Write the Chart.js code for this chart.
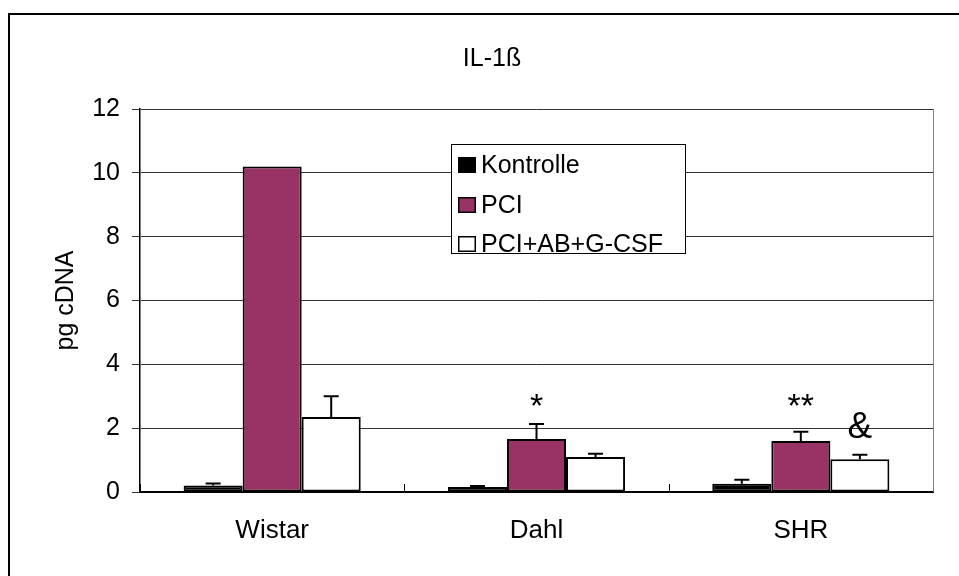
<!DOCTYPE html>
<html>
<head>
<meta charset="utf-8">
<title>IL-1ß</title>
<script src="https://cdn.jsdelivr.net/npm/chart.js@4"></script>
<style>
    body { margin: 0; background: #fff; }
    canvas { display: block; }
</style>
</head>
<body>
<canvas id="grafico" width="959" height="576"></canvas>
<script>
const categorias = ['Wistar', 'Dahl', 'SHR'];
const series = ['Kontrolle', 'PCI', 'PCI+AB+G-CSF'];

const kontrolle = [0.2, 0.16, 0.26];
const pci = [10.2, 1.66, 1.6];
const pciAbGcsf = [2.35, 1.1, 1.03];

// erro padrão (só a parte de cima aparece)
const kontrolleErro = [0.07, 0.03, 0.12];
const pciErro = [0, 0.47, 0.29];
const pciAbGcsfErro = [0.65, 0.1, 0.14];

const yTicks = [0, 2, 4, 6, 8, 10, 12];

// marcas de significância: [categoria, série, texto, altura do texto]
const marcas = [
    [1, 1, '*', 2.35],
    [2, 1, '**', 2.35],
    [2, 2, '&', 1.69]
];

const fonte = "'Liberation Sans', Arial, sans-serif";
const erros = [kontrolleErro, pciErro, pciAbGcsfErro];

const extras = {
    id: 'extras',
    afterDatasetsDraw(chart) {
        const ctx = chart.ctx;
        const y = chart.scales.y;
        const x = chart.scales.x;
        const area = chart.chartArea;

        ctx.save();
        ctx.strokeStyle = '#000';
        ctx.lineWidth = 2;
        chart.data.datasets.forEach(function(ds, i) {
            const meta = chart.getDatasetMeta(i);
            meta.data.forEach(function(bar, j) {
                const sd = erros[i][j];
                if (!sd) return;
                const topo = y.getPixelForValue(ds.data[j] + sd);
                ctx.beginPath();
                ctx.moveTo(bar.x, bar.y);
                ctx.lineTo(bar.x, topo);
                ctx.moveTo(bar.x - 7.5, topo);
                ctx.lineTo(bar.x + 7.5, topo);
                ctx.stroke();
            });
        });

        // tracinhos do eixo x entre as categorias
        ctx.lineWidth = 1;
        const largura = (x.right - x.left) / categorias.length;
        for (let k = 0; k <= categorias.length; k++) {
            const px = Math.round(x.left + k * largura) + 0.5;
            ctx.beginPath();
            ctx.moveTo(px, area.bottom);
            ctx.lineTo(px, area.bottom - 8);
            ctx.stroke();
        }

        // borda direita da área do gráfico
        ctx.strokeStyle = '#808080';
        ctx.beginPath();
        ctx.moveTo(area.right + 0.5, area.top);
        ctx.lineTo(area.right + 0.5, area.bottom);
        ctx.stroke();

        ctx.fillStyle = '#000';
        ctx.textAlign = 'center';
        ctx.textBaseline = 'alphabetic';
        marcas.forEach(function(m) {
            const bar = chart.getDatasetMeta(m[1]).data[m[0]];
            ctx.font = (m[2] === '&' ? '37px ' : '34px ') + fonte;
            ctx.fillText(m[2], bar.x, y.getPixelForValue(m[3]));
        });
        ctx.restore();
    },
    afterDraw(chart) {
        const ctx = chart.ctx;
        ctx.save();

        // moldura externa (só esquerda e topo aparecem)
        ctx.strokeStyle = '#000';
        ctx.lineWidth = 2;
        ctx.beginPath();
        ctx.moveTo(9, 576);
        ctx.lineTo(9, 14);
        ctx.lineTo(959, 14);
        ctx.stroke();

        // título
        ctx.fillStyle = '#000';
        ctx.font = '25px ' + fonte;
        ctx.textAlign = 'center';
        ctx.textBaseline = 'alphabetic';
        ctx.fillText('IL-1ß', 492, 66);

        // legenda
        ctx.fillStyle = '#fff';
        ctx.fillRect(451, 144, 234, 109);
        ctx.lineWidth = 1;
        ctx.strokeRect(451.5, 144.5, 234, 109);
        ctx.textAlign = 'left';
        const linhas = [173, 213, 252];
        chart.data.datasets.forEach(function(ds, i) {
            const base = linhas[i];
            ctx.fillStyle = ds.backgroundColor;
            ctx.fillRect(458, base - 16, 18, 16);
            ctx.strokeStyle = '#000';
            ctx.lineWidth = 1.5;
            ctx.strokeRect(458.75, base - 15.25, 16.5, 14.5);
            ctx.fillStyle = '#000';
            ctx.fillText(ds.label, 481, base);
        });
        ctx.restore();
    }
};

const grafico = new Chart(document.getElementById('grafico'), {
    type: 'bar',
    data: {
        labels: categorias,
        datasets: [
            { label: series[0], data: kontrolle, backgroundColor: '#000000' },
            { label: series[1], data: pci, backgroundColor: '#993366' },
            { label: series[2], data: pciAbGcsf, backgroundColor: '#ffffff' }
        ]
    },
    options: {
        responsive: false,
        animation: false,
        devicePixelRatio: 1,
        layout: { padding: { left: 0, right: 26, top: 109, bottom: 0 } },
        datasets: {
            bar: {
                borderColor: '#000',
                borderWidth: 2,
                borderSkipped: false,
                categoryPercentage: 0.67,
                barPercentage: 1.0
            }
        },
        scales: {
            x: {
                grid: { display: false, drawTicks: false },
                border: { color: '#000', width: 2 },
                ticks: { color: '#000', padding: 23, font: { family: fonte, size: 26 } },
                afterFit: function(s) { s.height = 84; }
            },
            y: {
                min: 0,
                max: 12,
                afterBuildTicks: function(s) { s.ticks = yTicks.map(v => ({ value: v })); },
                grid: { color: '#333', lineWidth: 1, tickLength: 8, drawTicks: true },
                border: { color: '#000', width: 1.5 },
                ticks: { color: '#000', padding: 12, font: { family: fonte, size: 25 } },
                title: {
                    display: true,
                    text: 'pg cDNA',
                    color: '#000',
                    padding: { top: 51, bottom: 0 },
                    font: { family: fonte, size: 25 }
                },
                afterFit: function(s) { s.width = 140; }
            }
        },
        plugins: {
            legend: { display: false },
            title: { display: false },
            tooltip: { enabled: false }
        }
    },
    plugins: [extras]
});
</script>
</body>
</html>
